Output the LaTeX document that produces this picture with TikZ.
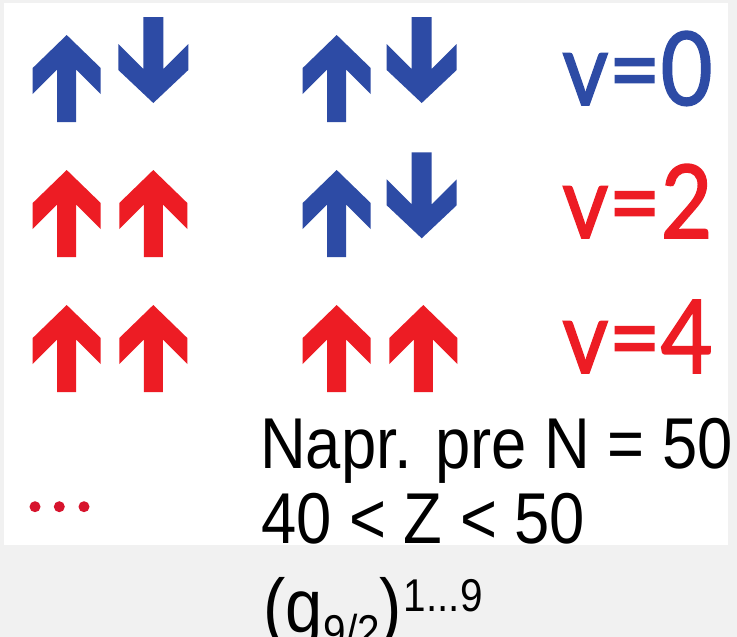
\documentclass[tikz,border=0pt]{standalone}
\usepackage{fontspec}
\setmainfont{Liberation Sans}
\newfontfamily\vfont{Lato}[FakeBold=1.6]
\definecolor{blueA}{RGB}{45,75,165}
\definecolor{redA}{RGB}{237,28,36}
\definecolor{dotred}{RGB}{215,20,45}
\definecolor{bgray}{RGB}{241,241,241}
\tikzset{
  uparr/.pic={\fill (0,0) -- (34,33) -- (34,59) -- (9.5,34.5) -- (9.5,87) -- (-9.5,87) -- (-9.5,34.5) -- (-34,59) -- (-34,33) -- cycle;},
  downarr/.pic={\fill (0,0) -- (35,-33) -- (35,-59) -- (10,-34) -- (10,-86) -- (-10,-86) -- (-10,-34) -- (-35,-59) -- (-35,-33) -- cycle;},
  vlabel/.style={anchor=base west, inner sep=0pt, font=\vfont\fontsize{102}{102}\selectfont},
  btext/.style={anchor=base west, inner sep=0pt, text=black, font=\fontsize{72}{72}\selectfont},
  dotsty/.style={fill=dotred}
}
\newcommand{\smallidx}{\fontsize{46}{46}\selectfont}
\begin{document}
\begin{tikzpicture}[x=1pt,y=-1pt]
\useasboundingbox (0,0) rectangle (737,637);
\fill[bgray] (0,0) rectangle (737,637);
\fill[white] (4,3) rectangle (728,545);
% row 1
\pic[blueA] at (66.7,35) {uparr};
\pic[blueA] at (153.3,103) {downarr};
\pic[blueA] at (336.7,35) {uparr};
\pic[blueA] at (421.7,103) {downarr};
% row 2
\pic[redA] at (66.7,170) {uparr};
\pic[redA] at (153.3,170) {uparr};
\pic[blueA] at (336.7,170) {uparr};
\pic[blueA] at (421.7,238.3) {downarr};
% row 3
\pic[redA] at (66.7,305) {uparr};
\pic[redA] at (153.3,305) {uparr};
\pic[redA] at (336.7,305) {uparr};
\pic[redA] at (423.3,305) {uparr};
% dots
\fill[dotsty] (35,506.7) circle[radius=5.5pt];
\fill[dotsty] (59.3,506.7) circle[radius=5.5pt];
\fill[dotsty] (84,506.7) circle[radius=5.5pt];
% labels
\node[vlabel, text=blueA] (v0) at (562,105) {\scalebox{0.88}[1]{v=0}};
\node[vlabel, text=redA] (v2) at (562,238) {\scalebox{0.88}[1]{v=2}};
\node[vlabel, text=redA] (v4) at (562,373) {\scalebox{0.88}[1]{v=4}};
\node[btext] (t1) at (260,468) {\scalebox{0.88}[1]{Napr. pre N = 50}};
\node[btext] (t2) at (261,543) {\scalebox{0.88}[1]{40 < Z < 50}};
\node[btext] (t3) at (263,632) {\scalebox{0.88}[1]{\fontsize{76}{76}\selectfont(g\kern1pt\raisebox{-15pt}{\smallidx 9/2})\kern2pt\raisebox{21pt}{\smallidx 1...9}}};
\end{tikzpicture}
\end{document}
